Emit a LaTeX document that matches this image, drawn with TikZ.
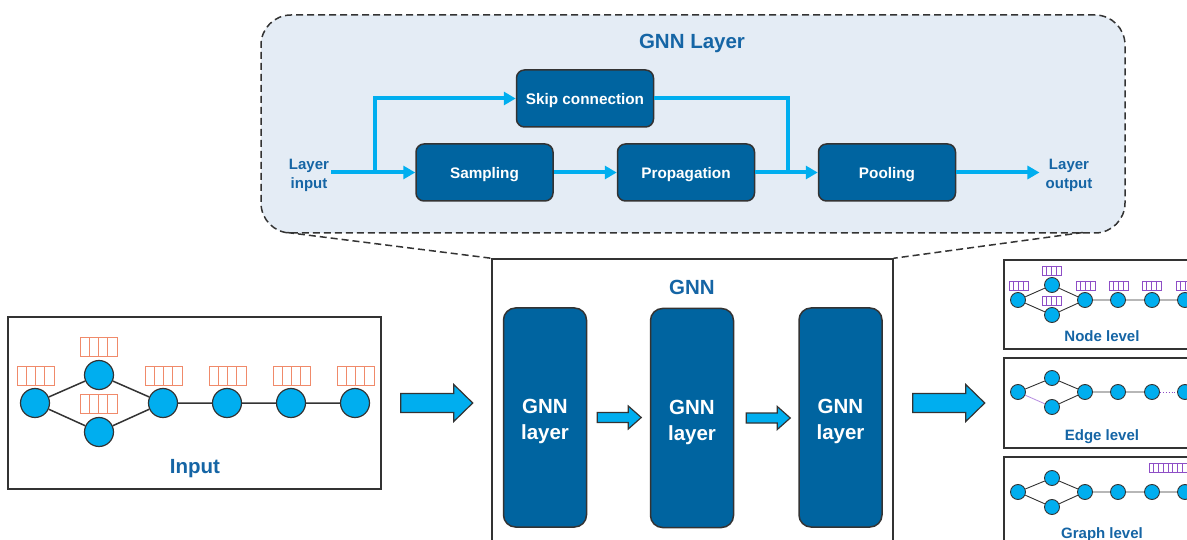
\documentclass[tikz,border=0pt]{standalone}
\usepackage{fontspec}
\setmainfont{Liberation Sans}
\usetikzlibrary{arrows.meta}
\definecolor{boxblue}{HTML}{0064A0}
\definecolor{lblue}{HTML}{1565A5}
\definecolor{cyanf}{HTML}{00AEEF}
\definecolor{arrowc}{HTML}{00AEEF}
\definecolor{panelc}{HTML}{E4ECF5}
\definecolor{edgec}{HTML}{333333}
\definecolor{featc}{HTML}{F08A6A}
\definecolor{purp}{HTML}{8E4EC6}
\definecolor{lpurp}{HTML}{B58AE0}
\newcommand{\fvec}[6]{%
  \draw[#6, line width=0.9pt, fill=white] (#1,#2) rectangle ++({#3*#4},#5);
  \pgfmathtruncatemacro{\lastc}{#3-1}%
  \foreach \i in {1,...,\lastc} \draw[#6, line width=0.9pt] ({#1+\i*#4},#2) -- ++(0,#5);
}
\begin{document}
\begin{tikzpicture}[x=1pt,y=-1pt,
  dashline/.style={draw=edgec, line width=1.5pt, dash pattern=on 7pt off 4pt},
  fbox/.style={draw=edgec, line width=1.5pt, fill=boxblue, rounded corners=8pt,
    minimum width=137pt, minimum height=57pt},
  ftext/.style={text=white, font=\fontsize{15.3}{18}\selectfont\bfseries},
  lbox/.style={draw=edgec, line width=1.5pt, fill=boxblue, rounded corners=12pt,
    minimum width=83pt, minimum height=219pt},
  ltext/.style={text=white, align=center, font=\fontsize{20.5}{26}\selectfont\bfseries},
  lbl/.style={text=lblue, font=\fontsize{15}{19}\selectfont\bfseries, align=center, inner sep=2pt},
  title/.style={text=lblue, font=\fontsize{20.5}{24}\selectfont\bfseries},
  flow/.style={draw=arrowc, line width=4pt},
  flowarr/.style={flow, -{Triangle[length=12pt,width=13pt]}},
  blockarrow/.style={fill=arrowc, draw=edgec, line width=1.2pt, line join=miter},
  frame/.style={draw=edgec, line width=1.5pt, fill=white},
  gnode/.style={circle, fill=cyanf, draw=edgec, line width=1.2pt, minimum size=29pt, inner sep=0pt},
  snode/.style={circle, fill=cyanf, draw=edgec, line width=0.9pt, minimum size=15pt, inner sep=0pt},
  gedge/.style={draw=edgec, line width=1.5pt},
  sedge/.style={draw=edgec, line width=0.9pt},
]
\clip (0,0) rectangle (1187,540);
\fill[white] (0,0) rectangle (1187,540);

% ---------- top panel ----------
\node[dashline, fill=panelc, rounded corners=30pt, minimum width=864pt, minimum height=218pt, inner sep=0pt] (panel) at (693,124) {};
\coordinate (pl) at (287,232.5);
\coordinate (pr) at (1083,232.5);
\node[title] (ltitle) at (692,43) {GNN Layer};

\node[fbox] (skip) at (585,98.5) {};
\node[fbox] (samp) at (484.5,172.5) {};
\node[fbox] (prop) at (686,172.5) {};
\node[fbox] (pool) at (887,172.5) {};
\node[ftext] (skipt) at ([yshift=-2.5pt]skip.center) {Skip connection};
\node[ftext] (sampt) at ([yshift=-2.5pt]samp.center) {Sampling};
\node[ftext] (propt) at ([yshift=-2.5pt]prop.center) {Propagation};
\node[ftext] (poolt) at ([yshift=-2.5pt]pool.center) {Pooling};
\node[lbl] (lin) at (309,175) {Layer\\input};
\node[lbl] (lout) at (1069,175) {Layer\\output};

\coordinate (br) at (375,172.5);
\coordinate (mg) at (788,172.5);
\draw[flowarr] (lin.east |- br) -- (samp.west);
\draw[flowarr] (br) |- (skip.west);
\draw[flowarr] (samp.east) -- (prop.west);
\draw[flow] (skip.east) -| (mg);
\draw[flowarr] (prop.east) -- (pool.west);
\draw[flowarr] (pool.east) -- ([xshift=-4pt]lout.west |- pool.east);

% ---------- GNN box ----------
\node[frame, minimum width=401pt, minimum height=301pt, inner sep=0pt] (gnn) at (692.5,409.5) {};
\draw[dashline] (pl) -- (gnn.north west);
\draw[dashline] (pr) -- (gnn.north east);
\node[title] (gtitle) at (692,287) {GNN};
\node[lbox] (L1) at (545,417.5) {};
\node[lbox] (L2) at (692,418) {};
\node[lbox] (L3) at (840.5,417.5) {};
\node[ltext] (L1t) at ([yshift=-4pt]L1.center) {GNN\\layer};
\node[ltext] (L2t) at ([yshift=-4pt]L2.center) {GNN\\layer};
\node[ltext] (L3t) at ([yshift=-4pt]L3.center) {GNN\\layer};
\draw[blockarrow] ([xshift=10pt]L1.east) ++(0,-5) -- ++(31,0) -- ++(0,-6.5) -- ++(13,11.5) -- ++(-13,11.5) -- ++(0,-6.5) -- ++(-31,0) -- cycle;
\draw[blockarrow] ([xshift=12pt]L2.east) ++(0,-5) -- ++(31,0) -- ++(0,-6.5) -- ++(13,11.5) -- ++(-13,11.5) -- ++(0,-6.5) -- ++(-31,0) -- cycle;

% ---------- Input box ----------
\node[frame, minimum width=373pt, minimum height=172pt, inner sep=0pt] (inbox) at (194.5,403) {};
\node[gnode] (n1) at (35,403) {};
\node[gnode] (n2) at (99,375) {};
\node[gnode] (n3) at (99,432) {};
\node[gnode] (n4) at (163,403) {};
\node[gnode] (n5) at (227,403) {};
\node[gnode] (n6) at (291,403) {};
\node[gnode] (n7) at (355,403) {};
\draw[gedge] (n1) -- (n2) (n1) -- (n3) (n2) -- (n4) (n3) -- (n4) (n4) -- (n5) (n5) -- (n6) (n6) -- (n7);
\fvec{17}{366}{4}{9.25}{19}{featc}
\fvec{80}{337}{4}{9.25}{19}{featc}
\fvec{80}{394}{4}{9.25}{19}{featc}
\fvec{145}{366}{4}{9.25}{19}{featc}
\fvec{209}{366}{4}{9.25}{19}{featc}
\fvec{273}{366}{4}{9.25}{19}{featc}
\fvec{337}{366}{4}{9.25}{19}{featc}
\node[title] (intitle) at (195,469) {Input};

\draw[blockarrow] ([xshift=19pt]inbox.east) ++(0,-9.5) -- ++(53,0) -- ++(0,-9) -- ++(19,18.5) -- ++(-19,18.5) -- ++(0,-9) -- ++(-53,0) -- cycle;
\draw[blockarrow] ([xshift=19pt]gnn.east) ++(0,-16) -- ++(53,0) -- ++(0,-9) -- ++(19,18.5) -- ++(-19,18.5) -- ++(0,-9) -- ++(-53,0) -- cycle;

% ---------- Node level ----------
\node[frame, minimum width=196pt, minimum height=89pt, inner sep=0pt] (nl) at (1102,304.5) {};
\node[snode] (a1) at (1018,300) {};
\node[snode] (a2) at (1052,285) {};
\node[snode] (a3) at (1052,315) {};
\node[snode] (a4) at (1085,300) {};
\node[snode] (a5) at (1118,300) {};
\node[snode] (a6) at (1152,300) {};
\node[snode] (a7) at (1185,300) {};
\draw[sedge] (a1) -- (a2) (a1) -- (a3) (a2) -- (a4) (a3) -- (a4) (a4) -- (a5) (a5) -- (a6) (a6) -- (a7);
\fvec{1009}{281}{4}{4.75}{9}{purp}
\fvec{1042}{266}{4}{4.75}{9}{purp}
\fvec{1042}{296}{4}{4.75}{9}{purp}
\fvec{1076}{281}{4}{4.75}{9}{purp}
\fvec{1109}{281}{4}{4.75}{9}{purp}
\fvec{1142}{281}{4}{4.75}{9}{purp}
\fvec{1176}{281}{4}{4.75}{9}{purp}
\node[lbl] (nltxt) at (1102,336.5) {Node level};

% ---------- Edge level ----------
\node[frame, minimum width=196pt, minimum height=90pt, inner sep=0pt] (el) at (1102,403) {};
\node[snode] (b1) at (1018,392) {};
\node[snode] (b2) at (1052,378) {};
\node[snode] (b3) at (1052,407) {};
\node[snode] (b4) at (1085,392) {};
\node[snode] (b5) at (1118,392) {};
\node[snode] (b6) at (1152,392) {};
\node[snode] (b7) at (1185,392) {};
\draw[sedge] (b1) -- (b2) (b2) -- (b4) (b3) -- (b4) (b4) -- (b5) (b5) -- (b6);
\draw[lpurp, line width=0.8pt] (b1) -- (b3);
\draw[purp, line width=0.9pt, dotted] (b6) -- (b7);
\node[lbl] (eltxt) at (1102,436.5) {Edge level};

% ---------- Graph level ----------
\node[frame, minimum width=196pt, minimum height=103pt, inner sep=0pt] (gl) at (1102,508.5) {};
\node[snode] (c1) at (1018,492) {};
\node[snode] (c2) at (1052,478) {};
\node[snode] (c3) at (1052,507) {};
\node[snode] (c4) at (1085,492) {};
\node[snode] (c5) at (1118,492) {};
\node[snode] (c6) at (1152,492) {};
\node[snode] (c7) at (1185,492) {};
\draw[sedge] (c1) -- (c2) (c1) -- (c3) (c2) -- (c4) (c3) -- (c4) (c4) -- (c5) (c5) -- (c6) (c6) -- (c7);
\fvec{1149}{463}{10}{4.75}{9}{purp}
\node[lbl] (gltxt) at (1102,534.5) {Graph level};
\end{tikzpicture}
\end{document}
